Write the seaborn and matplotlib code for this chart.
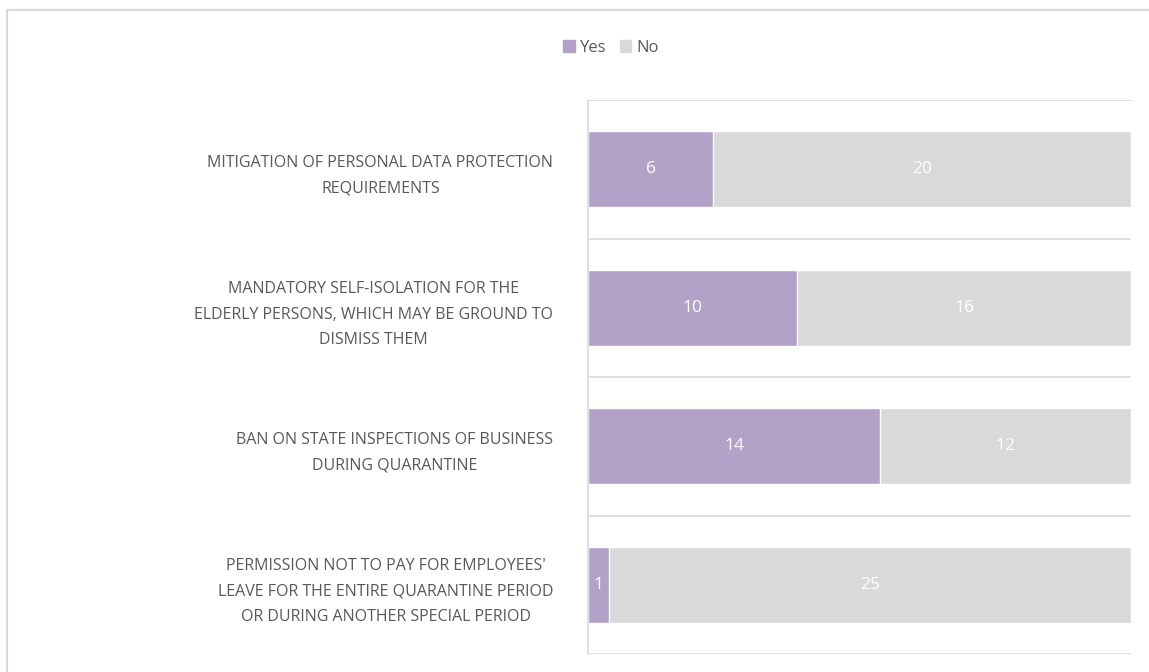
import matplotlib.pyplot as plt
import pandas as pd
import seaborn as sns
from matplotlib.patches import Patch, Rectangle

# Data
categories = [
    "MITIGATION OF PERSONAL DATA PROTECTION\nREQUIREMENTS",
    "MANDATORY SELF-ISOLATION FOR THE\nELDERLY PERSONS, WHICH MAY BE GROUND TO\nDISMISS THEM",
    "BAN ON STATE INSPECTIONS OF BUSINESS\nDURING QUARANTINE",
    "PERMISSION NOT TO PAY FOR EMPLOYEES'\nLEAVE FOR THE ENTIRE QUARANTINE PERIOD\nOR DURING ANOTHER SPECIAL PERIOD",
]
yes_counts = [6, 10, 14, 1]
no_counts = [20, 16, 12, 25]
series_names = ["Yes", "No"]

yes_color = "#b3a2c7"
no_color = "#d9d9d9"
text_color = "#595959"

df = pd.DataFrame({"measure": categories, "Yes": yes_counts, "No": no_counts})
df["Total"] = df["Yes"] + df["No"]

sns.set_style("white")
plt.rcParams["font.family"] = ["Open Sans", "DejaVu Sans"]

fig = plt.figure(figsize=(11.49, 6.72), dpi=100)
ax = fig.add_axes([588 / 1149, 1 - 654 / 672, (1131 - 588) / 1149, (654 - 100) / 672])

# stacked bars: full total in grey, then "Yes" over it
sns.barplot(data=df, y="measure", x="Total", color=no_color, width=0.55,
            saturation=1, orient="h", ax=ax)
sns.barplot(data=df, y="measure", x="Yes", color=yes_color, width=0.55,
            saturation=1, orient="h", ax=ax)

# segment labels
for i, row in df.iterrows():
    ax.text(row["Yes"] / 2, i, str(row["Yes"]), color="white", fontsize=12.5,
            ha="center", va="center")
    ax.text(row["Yes"] + row["No"] / 2, i, str(row["No"]), color="white",
            fontsize=12.5, ha="center", va="center")

ax.set_xlim(0, df["Total"].max())
ax.set_ylim(len(categories) - 0.5, -0.5)
ax.set_xlabel("")
ax.set_ylabel("")
ax.set_xticks([])

ax.set_yticks([i - 0.5 for i in range(len(categories) + 1)], minor=True)
ax.grid(axis="y", which="minor", color=no_color, linewidth=1.2)
ax.set_axisbelow(True)
ax.tick_params(axis="y", which="both", length=0, pad=25)
for lbl in ax.get_yticklabels():
    lbl.set_fontsize(11.5)
    lbl.set_color(text_color)
    lbl.set_multialignment("center")
    lbl.set_linespacing(1.8)

for side in ["top", "right", "bottom"]:
    ax.spines[side].set_visible(False)
ax.spines["left"].set_color(no_color)
ax.spines["left"].set_linewidth(1.2)

handles = [Patch(color=yes_color), Patch(color=no_color)]
leg = fig.legend(handles, series_names, ncol=2, loc="center",
                 bbox_to_anchor=(611 / 1149, 1 - 48 / 672), frameon=False,
                 handlelength=0.7, handleheight=0.7, handletextpad=0.3,
                 columnspacing=0.8, fontsize=12)
for t in leg.get_texts():
    t.set_color(text_color)

# light border around the chart area
fig.patches.append(Rectangle((7 / 1149, -0.1), 1.2, 1 - 10 / 672 + 0.1,
                             transform=fig.transFigure, fill=False,
                             edgecolor=no_color, linewidth=1.5))

fig.savefig("out.png", dpi=100)
